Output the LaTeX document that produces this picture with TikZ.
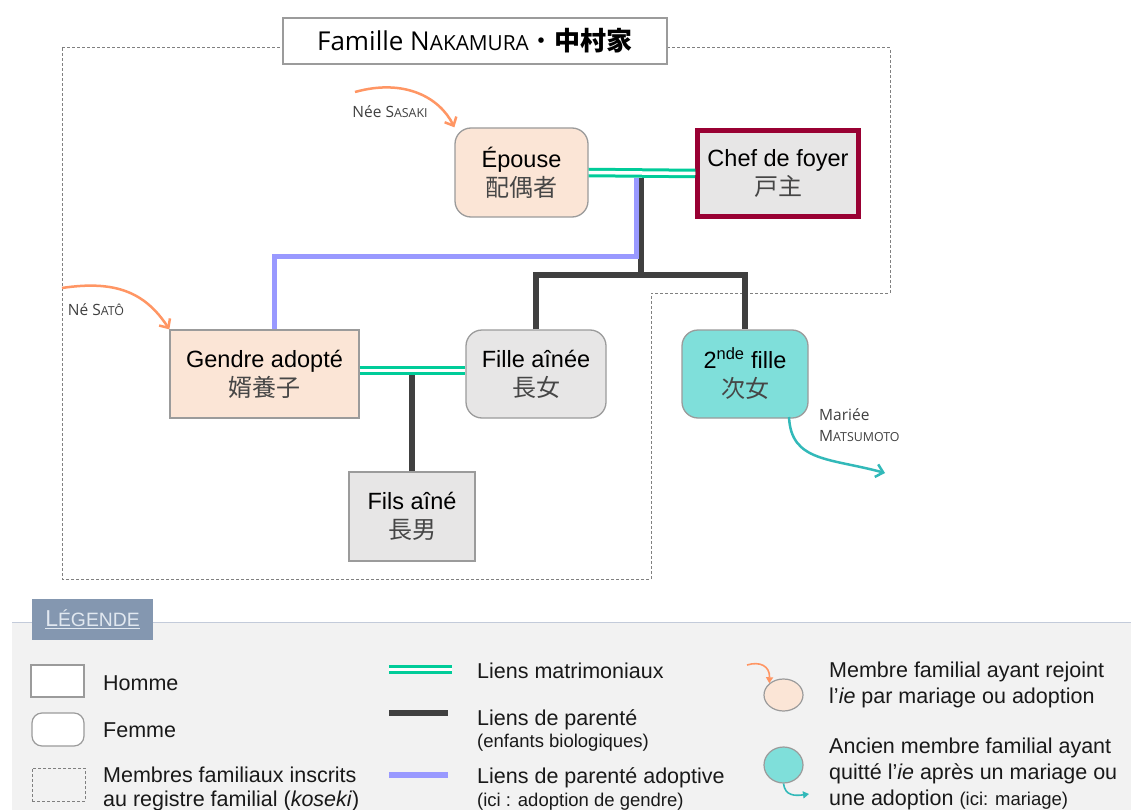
\documentclass[tikz,border=0pt]{standalone}
\usepackage{graphicx}
\usepackage{fontspec}
\setmainfont{Liberation Sans}
\newfontfamily\jpfont{Noto Sans CJK JP}
\newfontfamily\segfont{Open Sans}
\usetikzlibrary{arrows.meta,shapes.geometric}
\definecolor{peach}{RGB}{251,229,214}
\definecolor{boxgray}{RGB}{231,230,230}
\definecolor{tealfill}{RGB}{127,223,218}
\definecolor{bordergray}{RGB}{155,155,155}
\definecolor{marrgreen}{RGB}{0,204,153}
\definecolor{biodark}{RGB}{64,64,64}
\definecolor{adoptblue}{RGB}{153,153,255}
\definecolor{chefred}{RGB}{153,0,51}
\definecolor{arroworange}{RGB}{255,150,100}
\definecolor{arrowteal}{RGB}{50,185,185}
\definecolor{legbg}{RGB}{242,242,242}
\definecolor{legline}{RGB}{195,203,218}
\definecolor{tabblue}{RGB}{132,151,176}
\definecolor{tabtext}{RGB}{225,232,240}
\definecolor{jptext}{RGB}{70,70,70}
\definecolor{dashgray}{RGB}{128,128,128}
\newcommand{\smc}[1]{\scalebox{0.8}{#1}}
\newcommand{\jpline}[1]{{\jpfont\fontsize{24}{29}\selectfont\color{jptext}#1}}
\tikzset{
  person/.style={draw=bordergray, line width=1.3pt, align=center, inner sep=0pt,
    font=\fontsize{23.5}{29}\selectfont, text=black},
  female/.style={person, rounded corners=16pt},
  marr/.style={draw=marrgreen, double=white, double distance=3.5pt, line width=3pt},
  bio/.style={draw=biodark, line width=6pt},
  adopt/.style={draw=adoptblue, line width=5pt},
  joinarrow/.style={draw=arroworange, line width=2.5pt, -{Straight Barb[length=7pt,width=13pt]}},
  leavearrow/.style={draw=arrowteal, line width=2.5pt, -{Straight Barb[length=7pt,width=13pt]}},
  familyline/.style={draw=dashgray, line width=1pt, dash pattern=on 3pt off 2pt},
  smalllab/.style={font=\segfont\fontsize{15.5}{21}\selectfont, text=biodark, inner sep=0pt},
  legtext/.style={font=\fontsize{21.5}{26}\selectfont, anchor=base west, inner sep=0pt, text=black!90},
  legsmall/.style={font=\fontsize{18.5}{21}\selectfont, anchor=base west, inner sep=0pt, text=black!90},
}
\begin{document}
\begin{tikzpicture}[x=1pt,y=-1pt]
\useasboundingbox (0,0) rectangle (1131,810);
\fill[white] (0,0) rectangle (1131,810);

% family register outline
\draw[familyline] (62,48) -- (890,48) -- (890,293) -- (651,293) -- (651,579) -- (62,579) -- cycle;

% title
\node[draw=bordergray, line width=1.2pt, fill=white, minimum width=384, minimum height=46, inner sep=0pt] (title) at (475,41)
  {\segfont\fontsize{26}{30}\selectfont Famille N\smc{AKAMURA}{\jpfont ・\bfseries 中村家}};

% persons
\node[female, fill=peach, minimum width=133, minimum height=89] (epouse) at (521.5,172.5)
  {Épouse\\\jpline{配偶者}};
\node[person, draw=chefred, line width=4.5pt, fill=boxgray, minimum width=161, minimum height=86] (chef) at (778,173.5)
  {Chef de foyer\\\jpline{戸主}};
\node[person, fill=peach, minimum width=189, minimum height=88] (gendre) at (264.5,374)
  {Gendre adopté\\\jpline{婿養子}};
\node[female, fill=boxgray, minimum width=140, minimum height=88] (fille) at (536,374)
  {Fille aînée\\\jpline{長女}};
\node[female, fill=tealfill, minimum width=126, minimum height=88] (second) at (745,374)
  {2\textsuperscript{nde} fille\\\jpline{次女}};
\node[person, fill=boxgray, minimum width=126, minimum height=89] (fils) at (412,516.5)
  {Fils aîné\\\jpline{長男}};

% marriage links
\draw[marr] (epouse.east) -- (chef.west);
\draw[marr] ([yshift=3.5pt]gendre.east) -- ([yshift=3.5pt]fille.west);

% parent links
\coordinate (m1) at (641,178);
\coordinate (jct) at (641,275);
\draw[bio, line join=miter] (fille.north) |- (jct) -| (second.north);
\draw[bio] (m1) -- (jct);
\coordinate (b1) at (636,178);
\coordinate (bc) at (636,256);
\draw[adopt, line join=miter] (b1) -- (bc) -| ([xshift=9.5pt]gendre.north);
\coordinate (m2) at (412,375);
\draw[bio] (m2) -- (fils.north);

% join / leave arrows
\coordinate (sasakiS) at (355,92);
\coordinate (satoS) at (62,288);
\draw[joinarrow] (sasakiS) .. controls (405,78) and (440,98) .. (epouse.north west);
\draw[joinarrow] (satoS) .. controls (115,280) and (145,292) .. (gendre.north west);
\coordinate (mEnd) at (885,473);
\coordinate (mStart) at (789,417);
\draw[leavearrow] (mStart) .. controls (791,462) and (830,458) .. (mEnd);

\node[smalllab] (sasaki) at (390,112) {Née S\smc{ASAKI}};
\node[smalllab] (sato) at (96,310) {Né S\smc{ATÔ}};
\node[smalllab, anchor=north west, align=left] (matsu) at (819,408) {Mariée\\M\smc{ATSUMOTO}};

% ---------------- legend ----------------
\fill[legbg] (12,622) rectangle (1131,810);
\draw[legline, line width=1pt] (12,622) -- (1131,622);
\node[fill=tabblue, minimum width=121, minimum height=41, inner sep=0pt, text=tabtext,
  font=\fontsize{23}{26}\selectfont] (tab) at (92.5,619) {\underline{L\scalebox{0.84}{ÉGENDE}}};

\node[draw=bordergray, line width=1.2pt, fill=white, minimum width=53, minimum height=32, inner sep=0pt] (lhomme) at (57.5,681) {};
\node[legtext] (thomme) at (103,690) {Homme};
\node[draw=bordergray, line width=1.2pt, fill=white, rounded corners=10pt, minimum width=52, minimum height=33, inner sep=0pt] (lfemme) at (58,729.5) {};
\node[legtext] (tfemme) at (103,737) {Femme};
\node[familyline, minimum width=53, minimum height=33, inner sep=0pt] (lkoseki) at (58.5,784.5) {};
\node[legtext] (tkoseki1) at (103,782) {Membres familiaux inscrits};
\node[legtext] (tkoseki2) at (103,806) {au registre familial (\textit{koseki})};

\coordinate (lm1) at (389,669.5); \coordinate (lm2) at (452,669.5);
\draw[marr] (lm1) -- (lm2);
\node[legtext] (tmarr) at (477,678) {Liens matrimoniaux};
\coordinate (lb1) at (389,713); \coordinate (lb2) at (448,713);
\draw[bio, line width=6.5pt] (lb1) -- (lb2);
\node[legtext] (tbio) at (477,725) {Liens de parenté};
\node[legsmall] (tbio2) at (477,747) {(enfants biologiques)};
\coordinate (la1) at (389,775); \coordinate (la2) at (448,775);
\draw[adopt, line width=6pt] (la1) -- (la2);
\node[legtext] (tadopt) at (477,783) {Liens de parenté adoptive};
\node[legsmall] (tadopt2) at (477,806) {(ici : adoption de gendre)};

\node[draw=bordergray, line width=1.2pt, fill=peach, ellipse, minimum width=39, minimum height=32, inner sep=0pt] (ljoin) at (783.5,695) {};
\coordinate (ljs) at (747,665);
\draw[draw=arroworange, line width=1.6pt, -{Triangle[length=6pt,width=7pt]}] (ljs) .. controls (760,661) and (770,666) .. (ljoin.north west);
\node[legtext] (tjoin1) at (829,677) {Membre familial ayant rejoint};
\node[legtext] (tjoin2) at (829,703) {l’\textit{ie} par mariage ou adoption};

\node[draw=bordergray, line width=1.2pt, fill=tealfill, ellipse, minimum width=39, minimum height=36, inner sep=0pt] (lleave) at (783.5,765) {};
\coordinate (lle) at (809,794);
\draw[draw=arrowteal, line width=1.6pt, -{Triangle[length=6pt,width=7pt]}] (lleave.south) .. controls (785,796) and (795,796) .. (lle);
\node[legtext] (tleave1) at (829,753) {Ancien membre familial ayant};
\node[legtext] (tleave2) at (829,779) {quitté l’\textit{ie} après un mariage ou};
\node[legtext] (tleave3) at (829,805) {une adoption {\fontsize{18.5}{21}\selectfont(ici: mariage)}};
\end{tikzpicture}
\end{document}
